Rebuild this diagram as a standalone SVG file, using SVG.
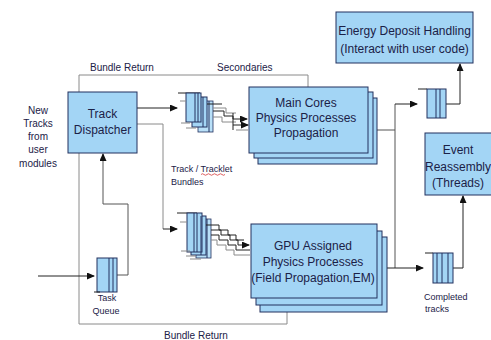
<svg xmlns="http://www.w3.org/2000/svg" width="491" height="340" viewBox="0 0 491 340">
<defs>
<style>
.box{fill:#a3d5f5;stroke:#22305e;stroke-width:1}
.q{fill:#a3d5f5;stroke:#22305e;stroke-width:1}
.qf{fill:#b9e0f8;stroke:#22305e;stroke-width:0.8}
.sep{stroke:#22305e;stroke-width:1}
.dk{fill:none;stroke:#222;stroke-width:1}
.gr{fill:none;stroke:#8a8a8a;stroke-width:1}
.md{fill:none;stroke:#555;stroke-width:1}
text{font-family:"Liberation Sans",Arial,sans-serif;fill:#1b2147}
.t12{font-size:12px;text-anchor:middle}
.t10{font-size:10px}
.t9{font-size:9px}
.c{text-anchor:middle}
</style>
<marker id="ah" markerWidth="8" markerHeight="7" refX="7" refY="3.5" orient="auto" markerUnits="userSpaceOnUse">
<path d="M0,0 L8,3.5 L0,7 Z" fill="#111"/>
</marker>
</defs>
<rect width="491" height="340" fill="#fff"/>

<g id="connectors">
<!-- top bundle return / secondaries -->
<path class="gr" d="M79 92 V75 H308 V87"/>
<!-- bottom bundle return -->
<path class="gr" d="M287 312 V324 H79 V153"/>
<!-- new tracks -->
<path class="dk" d="M38 276 H94" marker-end="url(#ah)"/>
<!-- task queue to dispatcher -->
<path class="md" d="M117 275 H128 V204 H103 V154" marker-end="url(#ah)"/>
<!-- dispatcher to bundle stacks -->
<path class="dk" d="M137 108 H177" marker-end="url(#ah)"/>
<path class="gr" d="M137 124 H163 V229"/>
<path class="dk" d="M163 229 H177" marker-end="url(#ah)"/>
<!-- main cores out -->
<path class="md" d="M377 130 H395"/>
<path class="md" d="M395 268 V104"/>
<path class="dk" d="M395 104 H417" marker-end="url(#ah)"/>
<!-- GPU out -->
<path class="dk" d="M387 268 H423" marker-end="url(#ah)"/>
<!-- queues to boxes -->
<path class="dk" d="M446 104 H460 V64" marker-end="url(#ah)"/>
<path class="dk" d="M453 268 H463 V196" marker-end="url(#ah)"/>
</g>

<g id="track-dispatcher">
<rect class="box" x="68" y="92" width="69" height="61"/>
<text class="t12" x="102.5" y="118">Track</text>
<text class="t12" x="102.5" y="134">Dispatcher</text>
</g>

<g id="main-cores">
<rect class="box" x="258" y="98" width="119" height="66"/>
<rect class="box" x="254" y="92" width="119" height="66"/>
<rect class="box" x="249" y="87" width="119" height="66"/>
<text class="t12" x="306" y="107">Main Cores</text>
<text class="t12" x="306" y="122">Physics Processes</text>
<text class="t12" x="306" y="137">Propagation</text>
</g>

<g id="gpu-assigned">
<rect class="box" x="260" y="237" width="127" height="75"/>
<rect class="box" x="256" y="231" width="126" height="74"/>
<rect class="box" x="251" y="224" width="126" height="74"/>
<text class="t12" x="313" y="250">GPU Assigned</text>
<text class="t12" x="313" y="266">Physics Processes</text>
<text class="t12" x="313" y="282">(Field Propagation,EM)</text>
</g>

<g id="energy-deposit">
<rect class="box" x="336" y="12" width="137" height="51"/>
<text class="t12" x="404.5" y="35">Energy Deposit Handling</text>
<text class="t12" x="404.5" y="53">(Interact with user code)</text>
</g>

<g id="event-reassembly">
<rect class="box" x="425" y="133" width="70" height="62"/>
<text class="t12" x="458" y="154">Event</text>
<text class="t12" x="458" y="171">Reassembly</text>
<text class="t12" x="458" y="187">(Threads)</text>
</g>

<g id="energy-queue">
<line class="dk" x1="418" y1="89" x2="427" y2="89"/>
<rect class="q" x="427" y="89" width="19" height="29"/>
<line class="sep" x1="436" y1="89" x2="436" y2="118"/>
<line class="sep" x1="440" y1="89" x2="440" y2="118"/>
</g>

<g id="completed-queue">
<line class="dk" x1="425" y1="253" x2="433" y2="253"/>
<rect class="q" x="433" y="253" width="20" height="30"/>
<line class="sep" x1="437" y1="253" x2="437" y2="283"/>
<line class="sep" x1="442" y1="253" x2="442" y2="283"/>
<line class="sep" x1="448" y1="253" x2="448" y2="283"/>
<text class="t9" x="424" y="300">Completed</text>
<text class="t9" x="425" y="312">tracks</text>
</g>

<g id="task-queue">
<rect class="q" x="97" y="258" width="20" height="34"/>
<line class="sep" x1="109" y1="258" x2="109" y2="292"/>
<line class="sep" x1="113" y1="258" x2="113" y2="292"/>
<line class="dk" x1="94" y1="292" x2="100" y2="292"/>
<text class="t9 c" x="107" y="301">Task</text>
<text class="t9 c" x="106" y="314">Queue</text>
</g>

<g id="bundles-main">
<line class="dk" x1="178" y1="93" x2="200" y2="93"/>
<rect class="qf" x="198" y="101" width="15" height="31"/>
<rect class="q" x="192" y="97" width="15" height="30"/>
<rect class="q" x="186" y="93" width="15" height="29"/>
<line class="sep" x1="195" y1="93" x2="195" y2="122"/>
<line class="sep" x1="198" y1="93" x2="198" y2="122"/>
<line class="sep" x1="203" y1="97" x2="203" y2="127"/>
<line class="sep" x1="209" y1="101" x2="209" y2="132"/>
<line class="gr" x1="180" y1="101" x2="186" y2="101"/>
<line class="gr" x1="181" y1="123" x2="190" y2="123"/>
<line class="gr" x1="186" y1="128" x2="196" y2="128"/>
<path class="dk" d="M207 104 H222"/>
<path class="gr" d="M213 108 H226 V113 H236"/>
<path class="dk" d="M213 111 H224 V116 H233 V119 H247" marker-end="url(#ah)"/>
<path class="gr" d="M213 117 H222 V122 H236"/>
<path class="dk" d="M233 113 V130"/>
<path class="dk" d="M233 125 H248" marker-end="url(#ah)"/>
<path class="gr" d="M236 130 H248"/>
</g>

<g id="bundles-gpu">
<line class="dk" x1="177" y1="213" x2="197" y2="213"/>
<rect class="qf" x="196" y="219" width="15" height="39"/>
<rect class="q" x="191" y="216" width="15" height="39"/>
<rect class="q" x="187" y="213" width="15" height="39"/>
<line class="sep" x1="194" y1="213" x2="194" y2="252"/>
<line class="sep" x1="197" y1="213" x2="197" y2="252"/>
<line class="sep" x1="201" y1="216" x2="201" y2="255"/>
<line class="sep" x1="207" y1="219" x2="207" y2="258"/>
<line class="gr" x1="180" y1="222" x2="187" y2="222"/>
<line class="gr" x1="181" y1="251" x2="190" y2="251"/>
<line class="gr" x1="186" y1="256" x2="196" y2="256"/>
<line class="gr" x1="190" y1="259" x2="201" y2="259"/>
<path class="dk" d="M206 225 H219 V230 H228 V235 H236 V240 H244"/>
<path class="dk" d="M211 230 H221 V235 H230 V240 H238 V245 H249" marker-end="url(#ah)"/>
<path class="dk" d="M211 235 H219 V240 H228 V245 H236 V250 H250"/>
<path class="gr" d="M211 240 H217 V245 H226 V250 H234 V255 H250"/>
</g>

<g id="labels">
<text class="t10" x="90" y="71">Bundle Return</text>
<text class="t10" x="217" y="71">Secondaries</text>
<text class="t10" x="164" y="339">Bundle Return</text>
<text class="t10 c" x="38" y="114">New</text>
<text class="t10 c" x="38" y="127">Tracks</text>
<text class="t10 c" x="38" y="140">from</text>
<text class="t10 c" x="38" y="153">user</text>
<text class="t10 c" x="38" y="167">modules</text>
<text class="t9" x="171" y="172">Track / Tracklet</text>
<path d="M201 174.5 q1.5 -1.5 3 0 t3 0 t3 0 t3 0 t3 0 t3 0 t3 0 t3 0" fill="none" stroke="#d02020" stroke-width="0.7"/>
<text class="t9" x="171" y="185">Bundles</text>
</g>
</svg>
